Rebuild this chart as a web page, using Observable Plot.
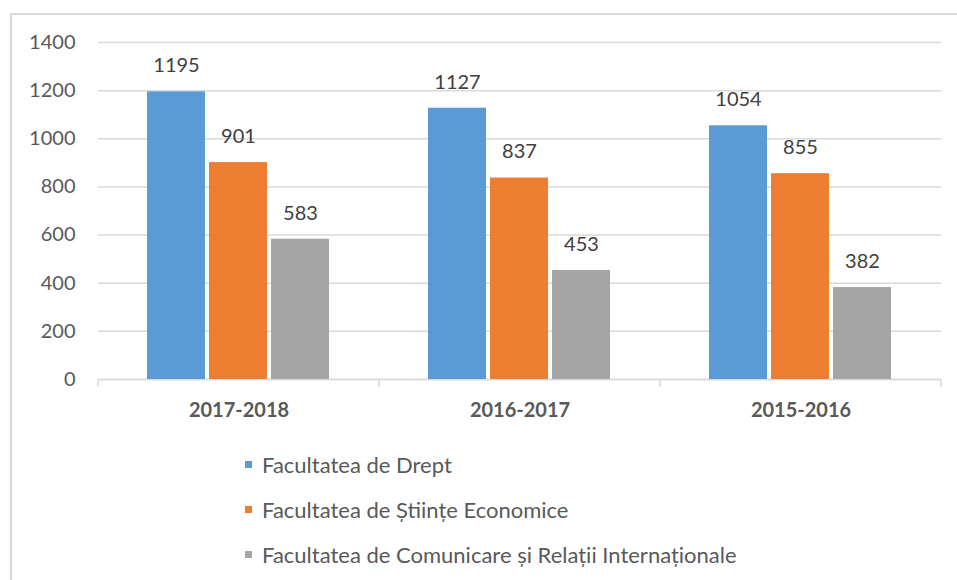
<!DOCTYPE html>
<html>
<head>
<meta charset="utf-8">
<script src="https://cdn.jsdelivr.net/npm/d3@7"></script>
<script src="https://cdn.jsdelivr.net/npm/@observablehq/plot@0.6"></script>
<style>
  html, body { margin: 0; padding: 0; background: #fff; }
  body { width: 957px; height: 580px; position: relative; overflow: hidden; font-family: Lato, "Noto Sans", sans-serif; }
  #frame { position: absolute; left: 10px; top: 13px; width: 980px; height: 620px;
           border-left: 2px solid #d9d9d9; border-top: 2px solid #d9d9d9; box-sizing: border-box; }
  #chart { position: absolute; left: 0; top: 0; }
  #legend { position: absolute; left: 245px; top: 442px; color: #595959; font-size: 22px; }
  .row { display: flex; align-items: center; height: 45px; }
  .sw { width: 7px; height: 7px; margin-right: 10px; flex: none; }
</style>
</head>
<body>
<div id="frame"></div>
<div id="chart"></div>
<div id="legend"></div>
<script>
const years = ["2017-2018", "2016-2017", "2015-2016"];
const series = [
  "Facultatea de Drept",
  "Facultatea de Științe Economice",
  "Facultatea de Comunicare și Relații Internaționale"
];
const drept = [1195, 1127, 1054];
const economice = [901, 837, 855];
const comunicare = [583, 453, 382];
const colors = ["#5B9BD5", "#ED7D31", "#A5A5A5"];
const yTicks = [0, 200, 400, 600, 800, 1000, 1200, 1400];

const valuesBySeries = [drept, economice, comunicare];
const data = [];
years.forEach((yr, i) => {
  series.forEach((s, j) => {
    data.push({ year: yr, series: s, value: valuesBySeries[j][i] });
  });
});

const plot = Plot.plot({
  width: 957,
  height: 430,
  marginLeft: 98,
  marginRight: 16,
  marginTop: 42,
  marginBottom: 51,
  style: { fontFamily: "Lato, 'Noto Sans', sans-serif", fontSize: "20px", color: "#595959", background: "transparent", overflow: "visible" },
  fx: { domain: years, padding: 0, label: null },
  x: { domain: series, axis: null, paddingInner: 0.064, paddingOuter: 0.784 },
  y: { domain: [0, 1400], label: null },
  color: { domain: series, range: colors },
  marks: [
    Plot.gridY(yTicks, { stroke: "#d9d9d9", strokeOpacity: 1, strokeWidth: 1.5 }),
    Plot.ruleY([0], { stroke: "#d9d9d9", strokeWidth: 1.5 }),
    Plot.barY(data, { fx: "year", x: "series", y: "value", fill: "series" }),
    Plot.text(data, { fx: "year", x: "series", y: "value", text: d => String(d.value), dy: -26, fill: "#404040", fontSize: 20 }),
    Plot.axisY(yTicks, { tickSize: 0, tickPadding: 23, tickFormat: d => String(d), fontSize: 20, fill: "#595959", label: null }),
    Plot.axisFx({ anchor: "bottom", tickSize: 0, tickPadding: 23, fontSize: 20, fontWeight: "bold", fill: "#595959", label: null })
  ]
});
document.getElementById("chart").appendChild(plot);

// boundary ticks along the category axis, positioned from Plot's fx and y scales
const fx = plot.scale("fx");
const ys = plot.scale("y");
const y0 = ys.apply(0);
const bounds = years.map(yr => fx.apply(yr));
bounds.push(fx.apply(years[years.length - 1]) + fx.bandwidth);
d3.select(plot).append("g")
  .selectAll("line").data(bounds).join("line")
  .attr("x1", d => d).attr("x2", d => d)
  .attr("y1", y0).attr("y2", y0 + 8)
  .attr("stroke", "#d9d9d9").attr("stroke-width", 1.5);

// legend
const legend = d3.select("#legend");
series.forEach((s, i) => {
  const row = legend.append("div").attr("class", "row");
  row.append("div").attr("class", "sw").style("background", colors[i]);
  row.append("span").text(s);
});
</script>
</body>
</html>
